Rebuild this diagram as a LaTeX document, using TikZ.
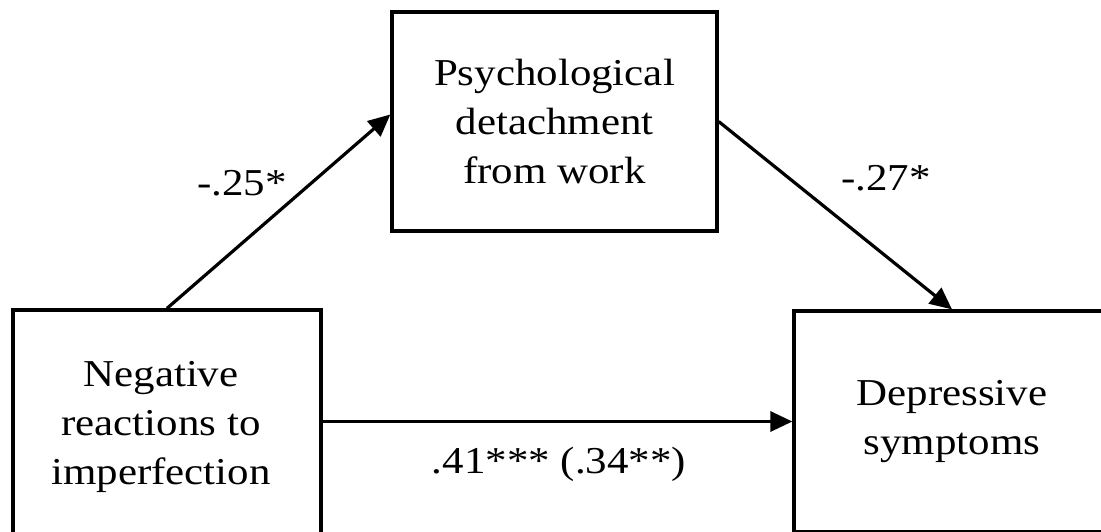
\documentclass[tikz,border=0pt]{standalone}
\usepackage{fontspec}
\setmainfont{Liberation Serif}[FakeStretch=1.13]
\usetikzlibrary{arrows.meta}
\begin{document}
\begin{tikzpicture}[x=1pt,y=-1pt,
  box/.style={draw=black,line width=3.3pt,rectangle,inner sep=0pt,align=center,
    font=\fontsize{38}{49}\selectfont},
  lbl/.style={inner sep=0pt,font=\fontsize{38}{49}\selectfont},
  arr/.style={draw=black,line width=3.2pt,-{Triangle[length=22pt,width=20pt]}}]
\useasboundingbox (0,0) rectangle (1101,531);
\clip (0,0) rectangle (1101,531);
\node[box,minimum width=308pt,minimum height=234pt] (neg) at (167,427)
  {\hspace*{-12pt}Negative\\\hspace*{-12pt}reactions to\\\hspace*{-12pt}imperfection};
\node[box,minimum width=325pt,minimum height=219pt] (det) at (554.5,121.5)
  {Psychological\\detachment\\from work};
\node[box,minimum width=316pt,minimum height=221pt] (dep) at (952,421.5)
  {Depressive\\symptoms};
\draw[arr] (neg.north) -- ([yshift=7pt]det.west);
\draw[arr] (det.east) -- (dep.north);
\draw[arr] (dep.west -| neg.east) -- (dep.west);
\node[lbl] (a) at (242,183) {-.25*};
\node[lbl] (b) at (886,178) {-.27*};
\node[lbl] (c) at (559,464) {.41*** (.34**)};
\end{tikzpicture}
\end{document}
